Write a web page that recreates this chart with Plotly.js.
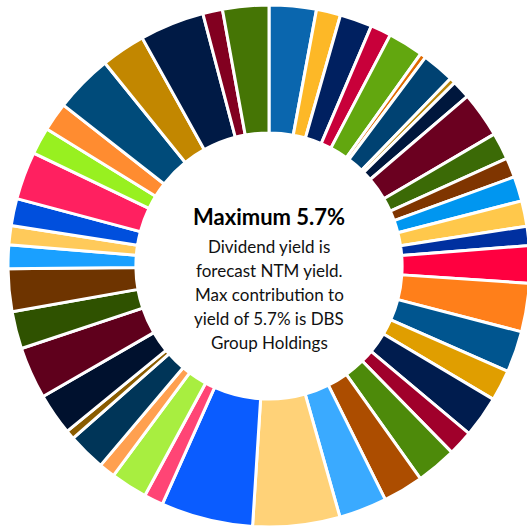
<!DOCTYPE html>
<html>
<head>
<meta charset="utf-8">
<script src="https://cdn.plot.ly/plotly-3.0.1.min.js"></script>
<style>
html, body { margin: 0; padding: 0; overflow: hidden; background: #fff; }
#chart { width: 530px; height: 529px; }
</style>
</head>
<body>
<div id="chart"></div>
<script>
// Holdings (clockwise from 12 o'clock) and their contribution to portfolio dividend yield (%)
const holdings = [
  "Holding 1","Holding 2","Holding 3","Holding 4","Holding 5","Holding 6","Holding 7","Holding 8",
  "Holding 9","Holding 10","Holding 11","Holding 12","Holding 13","Holding 14","Holding 15","Holding 16",
  "Holding 17","Holding 18","Holding 19","Holding 20","Holding 21","Holding 22","Holding 23","Holding 24",
  "Holding 25","DBS Group Holdings","Holding 27","Holding 28","Holding 29","Holding 30","Holding 31","Holding 32",
  "Holding 33","Holding 34","Holding 35","Holding 36","Holding 37","Holding 38","Holding 39","Holding 40",
  "Holding 41","Holding 42","Holding 43","Holding 44","Holding 45","Holding 46"
];
const contribution = [
  2.92, 1.50, 2.00, 1.28, 2.19, 0.36, 2.00, 0.36,
  1.14, 2.83, 1.67, 1.22, 1.53, 1.58, 1.19, 2.31,
  3.00, 2.56, 1.92, 2.56, 1.56, 2.50, 2.50, 2.97,
  5.39, 5.70, 1.19, 2.28, 1.00, 2.36, 0.56, 2.58,
  3.22, 2.31, 2.64, 1.47, 1.19, 1.67, 2.97, 1.67,
  1.78, 3.61, 2.75, 4.00, 1.22, 2.86
];
const sliceColors = [
  "#0A66AE","#FDB827","#002060","#C8003A","#62A70F","#E06A00","#004272","#B8860B",
  "#00173D","#6B0020","#3B6A06","#7F3500","#0096F0","#FFC84B","#0030A0","#FF0040",
  "#FF7F1A","#00558F","#E09E00","#001C4E","#A0002B","#4D8A0A","#AC4D00","#3AAAFF",
  "#FFD278","#0A5CFF","#FF4575","#A8EE40","#FFA050","#003558","#8A5C00","#00112E",
  "#5F001C","#2F5200","#6E3400","#1AA0FF","#FFCA5A","#004FDD","#FF2060","#98F020",
  "#FF8C30","#004B7A","#C28700","#001A45","#820020","#457505"
];
const centerTitle = "Maximum 5.7%";
const centerLines = [
  "Dividend yield is",
  "forecast NTM yield.",
  "Max contribution to",
  "yield of 5.7% is DBS",
  "Group Holdings"
];

const W = 530, H = 529;
const M = { l: 8, r: 0, t: 4, b: 1 };
const plotH = H - M.t - M.b;
function py(pix) { return 1 - (pix - M.t) / plotH; }

const annotations = [{
  text: "<b>" + centerTitle + "</b>",
  x: 0.5, y: py(216), xref: "paper", yref: "paper",
  xanchor: "center", yanchor: "middle", showarrow: false,
  font: { family: "Lato, 'Open Sans', sans-serif", size: 22, color: "#000" }
}];
const lineY = [246, 270, 294, 318, 342];
centerLines.forEach((t, i) => {
  annotations.push({
    text: t, x: 0.5, y: py(lineY[i]), xref: "paper", yref: "paper",
    xanchor: "center", yanchor: "middle", showarrow: false,
    font: { family: "Lato, 'Open Sans', sans-serif", size: 17, color: "#111" }
  });
});

Plotly.newPlot("chart", [{
  type: "pie",
  labels: holdings,
  values: contribution,
  sort: false,
  direction: "clockwise",
  rotation: 0,
  hole: 0.51,
  textinfo: "none",
  marker: { colors: sliceColors, line: { color: "#ffffff", width: 3 } },
  showlegend: false
}], {
  width: W, height: H,
  margin: M,
  paper_bgcolor: "#fff",
  annotations: annotations
}, { staticPlot: true, displayModeBar: false });
</script>
</body>
</html>
